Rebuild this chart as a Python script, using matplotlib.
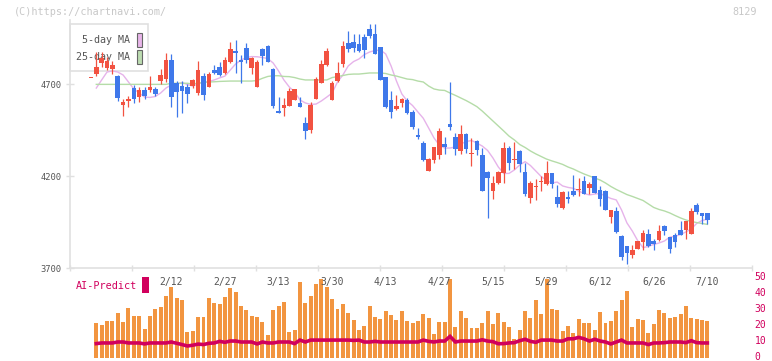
import matplotlib
matplotlib.use("Agg")
import matplotlib.pyplot as plt
from matplotlib.patches import Rectangle
from matplotlib.transforms import ScaledTranslation
import numpy as np

# ---- data ----
# candle -1 is the cut-off doji at the very left, no volume shown for it
opens = [4733, 4757, 4812, 4789, 4781, 4743, 4586, 4608, 4678, 4627, 4667, 4667, 4673, 4718, 4727,
         4830, 4705, 4689, 4685, 4689, 4653, 4743, 4685, 4776, 4794, 4761, 4820, 4881, 4830, 4896,
         4789, 4685, 4890, 4906, 4781, 4553, 4571, 4582, 4613, 4598, 4486, 4450, 4618, 4707, 4803,
         4613, 4716, 4809, 4924, 4927, 4917, 4957, 4999, 4972, 4903, 4736, 4613, 4564, 4598, 4613,
         4546, 4423, 4381, 4227, 4287, 4314, 4374, 4483, 4414, 4336, 4428, 4318, 4390, 4314, 4223,
         4120, 4164, 4215, 4354, 4287, 4336, 4223, 4082, 4142, 4169, 4155, 4218, 4088, 4028, 4088,
         4119, 4126, 4173, 4136, 4200, 4124, 4119, 3976, 4011, 3874, 3820, 3771, 3803, 3843, 3885,
         3847, 3852, 3928, 3867, 3879, 3907, 3907, 3885, 4042, 3997, 3997]
highs = [4735, 4874, 4874, 4847, 4825, 4749, 4618, 4635, 4695, 4684, 4681, 4743, 4682, 4781, 4868,
         4863, 4716, 4716, 4700, 4727, 4825, 4760, 4767, 4803, 4821, 4848, 4930, 4939, 4858, 4923,
         4848, 4830, 4896, 4912, 4787, 4631, 4624, 4678, 4673, 4629, 4522, 4604, 4738, 4830, 4897,
         4716, 4821, 4934, 4988, 4972, 4972, 4970, 5024, 5026, 4903, 4736, 4664, 4640, 4626, 4622,
         4556, 4459, 4390, 4298, 4359, 4463, 4414, 4713, 4434, 4477, 4434, 4407, 4396, 4354, 4227,
         4200, 4227, 4386, 4363, 4386, 4341, 4271, 4173, 4184, 4200, 4282, 4218, 4151, 4119, 4120,
         4205, 4188, 4200, 4169, 4200, 4147, 4124, 4015, 4033, 3879, 3820, 3825, 3847, 3907, 3910,
         3858, 3934, 3934, 3870, 3889, 3955, 3955, 4025, 4055, 4001, 3999]
lows = [4731, 4743, 4792, 4776, 4753, 4608, 4528, 4577, 4597, 4604, 4617, 4658, 4635, 4700, 4711,
        4577, 4522, 4544, 4597, 4678, 4640, 4613, 4682, 4757, 4743, 4754, 4814, 4760, 4705, 4816,
        4754, 4681, 4803, 4820, 4568, 4541, 4528, 4580, 4613, 4575, 4401, 4435, 4616, 4705, 4799,
        4613, 4709, 4794, 4875, 4875, 4874, 4843, 4948, 4863, 4722, 4568, 4517, 4561, 4577, 4537,
        4455, 4401, 4282, 4227, 4272, 4294, 4320, 4450, 4314, 4320, 4327, 4254, 4314, 4116, 3973,
        4075, 4157, 4164, 4233, 4236, 4223, 4091, 4052, 4070, 4120, 4151, 4135, 4033, 4021, 4055,
        4091, 4093, 4100, 4102, 4108, 4039, 4013, 3943, 3889, 3744, 3722, 3756, 3801, 3798, 3816,
        3798, 3848, 3879, 3783, 3813, 3877, 3858, 3885, 3992, 3938, 3939]
closes = [4733, 4792, 4840, 4825, 4803, 4626, 4602, 4621, 4616, 4667, 4635, 4684, 4646, 4749, 4830,
          4631, 4658, 4662, 4644, 4722, 4776, 4640, 4754, 4761, 4749, 4830, 4890, 4867, 4820, 4830,
          4843, 4821, 4854, 4821, 4580, 4544, 4586, 4664, 4673, 4577, 4446, 4586, 4727, 4809, 4879,
          4707, 4761, 4906, 4890, 4894, 4879, 4885, 4961, 4863, 4722, 4573, 4548, 4580, 4617, 4541,
          4468, 4414, 4287, 4292, 4359, 4445, 4359, 4468, 4347, 4428, 4347, 4327, 4341, 4119, 4191,
          4164, 4223, 4354, 4272, 4292, 4264, 4102, 4160, 4146, 4173, 4215, 4155, 4046, 4115, 4075,
          4097, 4129, 4102, 4157, 4109, 4073, 4015, 4015, 3896, 3758, 3783, 3798, 3847, 3889, 3820,
          3830, 3901, 3901, 3805, 3843, 3879, 3955, 4010, 4006, 3984, 3961]

ma5 = [4678, 4722, 4765, 4771, 4765, 4749, 4711, 4673, 4651, 4629, 4627, 4632, 4651, 4678, 4695,
       4700, 4708, 4697, 4689, 4700, 4711, 4714, 4722, 4733, 4743, 4776, 4809, 4830, 4844, 4849,
       4848, 4844, 4838, 4814, 4771, 4722, 4684, 4657, 4613, 4597, 4589, 4591, 4608, 4629, 4651,
       4711, 4749, 4798, 4822, 4836, 4860, 4874, 4882, 4885, 4863, 4798, 4716, 4646, 4608, 4583,
       4548, 4514, 4461, 4407, 4368, 4352, 4352, 4358, 4374, 4387, 4393, 4379, 4363, 4339, 4298,
       4249, 4214, 4214, 4233, 4260, 4278, 4257, 4227, 4197, 4176, 4162, 4167, 4146, 4138, 4133,
       4118, 4105, 4097, 4102, 4105, 4091, 4078, 4070, 4015, 3945, 3901, 3849, 3811, 3817, 3828,
       3836, 3847, 3868, 3872, 3882, 3896, 3912, 3942, 3958, 3965]
ma25 = [4698, 4698, 4698, 4698, 4698, 4698, 4698, 4698, 4698, 4698, 4698, 4698, 4698, 4698, 4704,
        4704, 4704, 4704, 4700, 4705, 4708, 4711, 4712, 4714, 4715, 4716, 4716, 4716, 4716, 4716,
        4719, 4731, 4741, 4745, 4745, 4741, 4740, 4735, 4727, 4722, 4722, 4722, 4722, 4722, 4735,
        4740, 4746, 4752, 4754, 4754, 4757, 4760, 4760, 4760, 4757, 4749, 4743, 4735, 4727, 4724,
        4716, 4711, 4689, 4673, 4667, 4665, 4651, 4638, 4624, 4610, 4594, 4577, 4553, 4526, 4499,
        4472, 4445, 4417, 4396, 4371, 4355, 4336, 4320, 4306, 4292, 4282, 4273, 4263, 4249, 4238,
        4224, 4211, 4200, 4189, 4178, 4162, 4143, 4127, 4113, 4099, 4089, 4078, 4067, 4048, 4029,
        4018, 4010, 3999, 3985, 3972, 3961, 3953, 3947, 3942, 3937]

volume = [22, 20.6, 23.1, 23.1, 28.3, 22.7, 31.5, 26.3, 26.3, 18.1, 26.3, 30.6, 31.9, 38.8, 44.6,
          37.5, 36.3, 16.3, 16.9, 25.6, 25.6, 37.5, 34.4, 34, 38.1, 43.8, 41.3, 32.5, 30, 26.3,
          25.4, 22.5, 14.4, 30, 32.5, 35, 16.3, 17.5, 47.5, 34.4, 38.8, 46.3, 49.4, 44.4, 36.9,
          30.6, 33.8, 28.3, 23.8, 17.5, 20, 32.5, 25.6, 24.4, 29.4, 26.9, 23.8, 29.4, 23.1, 21.9,
          23.1, 27.5, 25, 15, 22.5, 22.5, 49.4, 19.4, 29.4, 25, 18.8, 18.8, 21.9, 29.4, 21.3,
          28.1, 22.5, 19.4, 11.9, 17.5, 29.4, 25, 36.3, 27.5, 49.4, 30.6, 30, 16.9, 20, 15.6,
          24.4, 21.9, 21.9, 17.5, 28.8, 21.9, 23.1, 29.4, 36.3, 41.9, 19.4, 24.4, 23.8, 15.6, 21.3,
          30, 28.1, 25, 25.6, 27.5, 32.5, 25, 24.4, 23.8, 23.1]
ai_predict = [9.0, 9.4, 9.4, 9.4, 10, 10, 9.4, 9.4, 9.4, 8.8, 9.4, 9.4, 9.4, 9.4, 10,
              9.2, 8.4, 7.5, 8, 8.7, 8.4, 9.2, 9.4, 10.4, 9.8, 10.6, 10.6, 10, 10, 10,
              8.8, 10, 9.4, 9.4, 10, 10, 10, 9.0, 11.2, 10, 11.2, 11.2, 11.2, 11.2, 11.2,
              11.2, 11.2, 11.2, 11, 11.2, 10, 10, 10.4, 10, 10, 10, 10, 10, 10, 10,
              10, 11.2, 10.4, 10, 10.6, 10.6, 13.5, 10, 10.6, 10.6, 10.6, 10.6, 11.4, 10.6, 10.2,
              8.9, 9.0, 9.4, 9.6, 10.8, 11.7, 10.4, 9.8, 11.2, 11.2, 11.2, 10.6, 10.6, 12, 12,
              12.9, 12, 10.6, 11.7, 10.6, 10, 8.8, 10, 11.2, 9.4, 9.4, 9.4, 9.4, 8.4, 9.4,
              9.4, 9.6, 10, 10, 10, 9.6, 10.8, 9.6, 9.4, 9.4]

date_labels = ['2/12', '2/27', '3/13', '3/30', '4/13', '4/27', '5/15', '5/29', '6/12', '6/26', '7/10']
date_pos = [14, 24, 34, 44, 54, 64, 74, 84, 94, 104, 114]

UP = '#f25241'
DOWN = '#3f78ea'
VOLC = '#f29540'
AIC = '#d1005d'
GRID = '#e0e0e0'
TXT = '#555555'
MONO = 'DejaVu Sans Mono'

W, H = 772, 361
fig = plt.figure(figsize=(W / 100, H / 100), dpi=100)

def fx(px):
    return px / W

def fy(py):
    return 1 - py / H

# index <-> pixel: candle 0 at x=96.3, step 5.36 px
x0, step = 96.3, 5.36
xl = ((70 - x0) / step, (752 - x0) / step)

# ---- price panel ----
ax = fig.add_axes([fx(70), fy(268), fx(752) - fx(70), (268 - 20) / H])
ax.set_facecolor('none')
ax.set_xlim(*xl)
ax.set_ylim(3700, 3700 + 248 / 0.184)

idx = np.arange(-1, len(opens) - 1)
o = np.array(opens, float)
c = np.array(closes, float)
hi = np.array(highs, float)
lo = np.array(lows, float)
cols = np.where(c >= o, UP, DOWN)
body_lo = np.minimum(o, c)
body_h = np.maximum(np.abs(c - o), 6)

ax.vlines(idx, lo, hi, colors=cols, lw=0.9, zorder=3)
ax.bar(idx, body_h, bottom=body_lo, width=0.86, color=cols, zorder=4, linewidth=0)

mi = np.arange(len(ma5))
ax.plot(mi, ma5, color='#e6b3ea', lw=1.0, zorder=2)
ax.plot(mi, ma25, color='#b5dca8', lw=1.0, zorder=2)

for s in ['top', 'right']:
    ax.spines[s].set_visible(False)
for s in ['left', 'bottom']:
    ax.spines[s].set_color(GRID)
    ax.spines[s].set_linewidth(1.2)
ax.set_yticks([3700, 4200, 4700])
ax.tick_params(axis='y', direction='inout', length=6, color=GRID, width=1,
               labelsize=6.3, labelcolor=TXT, pad=3)
for t in ax.get_yticklabels():
    t.set_family(MONO)
ax.set_xticks([(70 + 62 * k - x0) / step for k in range(12)])
ax.tick_params(axis='x', direction='inout', length=4, color=GRID, width=1, labelbottom=False)

# ---- volume / AI panel ----
av = fig.add_axes([fx(70), fy(358), fx(752) - fx(70), 80 / H])
av.set_facecolor('none')
av.set_xlim(*xl)
av.set_ylim(0, 50)
vi = np.arange(len(volume))
av.bar(vi, volume, width=0.74, color=VOLC, linewidth=0, zorder=2)
av.plot(vi, ai_predict, color=AIC, lw=2.6, zorder=3, solid_joinstyle='miter')
for s in av.spines.values():
    s.set_visible(False)
av.set_xticks([])
av.yaxis.tick_right()
av.set_yticks([0, 10, 20, 30, 40, 50])
av.tick_params(axis='y', length=0, pad=2, labelsize=7, labelcolor=AIC)
lift = ScaledTranslation(0, 2 / 100, fig.dpi_scale_trans)
for t in av.get_yticklabels():
    t.set_family(MONO)
    t.set_transform(t.get_transform() + lift)
for p, lab in zip(date_pos, date_labels):
    av.text(p, 47.5, lab, ha='center', va='center', fontsize=7, color=TXT, family=MONO)

# ---- header / legend ----
fig.text(fx(14), fy(12), '(C)https://chartnavi.com/', fontsize=7.3, color='#c8c8c8',
         family=MONO, va='center', ha='left')
fig.text(fx(757), fy(12), '8129', fontsize=7.3, color='#c8c8c8', family=MONO,
         va='center', ha='right')

box = Rectangle((fx(70), fy(71)), fx(148) - fx(70), (71 - 24) / H, transform=fig.transFigure,
                facecolor='white', edgecolor=GRID, lw=1.2, zorder=-2)
fig.add_artist(box)
for ty, lab, sw in [(40, '5-day MA', '#e8b5e9'), (57, '25-day MA', '#bcdcb1')]:
    fig.text(fx(130), fy(ty), lab, fontsize=7.2, color=TXT, family=MONO,
             ha='right', va='center', zorder=-1)
    fig.add_artist(Rectangle((fx(137), fy(ty + 7)), fx(142) - fx(137), 14 / H,
                             transform=fig.transFigure, facecolor=sw, edgecolor='#666666',
                             lw=0.8, zorder=-1))

fig.text(fx(76), fy(286), 'AI-Predict', fontsize=7.3, color=AIC, family=MONO,
         ha='left', va='center')
fig.add_artist(Rectangle((fx(142), fy(293)), fx(149) - fx(142), 16 / H,
                         transform=fig.transFigure, facecolor=AIC, edgecolor='none'))

fig.savefig('out.png', dpi=100)
